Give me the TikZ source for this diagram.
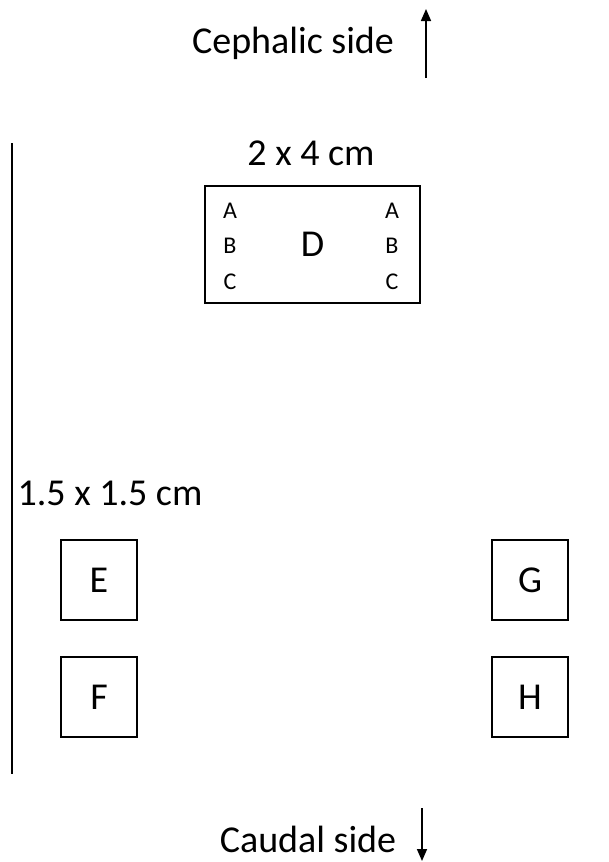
\documentclass[tikz,border=0pt]{standalone}
\usepackage{fontspec}
\setmainfont{Carlito}
\usetikzlibrary{arrows.meta}
\begin{document}
\begin{tikzpicture}[x=1pt,y=-1pt,
  big/.style={inner sep=0pt,font=\fontsize{38}{42}\selectfont},
  small/.style={inner sep=0pt,anchor=base,font=\fontsize{24}{28}\selectfont},
  sq/.style={draw,line width=2.8pt,minimum width=76pt,minimum height=80pt,inner sep=0pt,font=\fontsize{38}{42}\selectfont},
  arr/.style={line width=1.6pt,-{Triangle[length=12pt,width=10pt]}},
  bar/.style={line width=2pt}]
\useasboundingbox (0,0) rectangle (609,862);
% header / footer
\node[big,anchor=base] (ceph) at (293,53) {Cephalic side};
\coordinate (cb) at (426,78);
\coordinate (ct) at (426,9);
\draw[arr] (cb) -- (ct);
\node[big,anchor=base] (caud) at (308,852) {Caudal side};
\coordinate (db) at (422,808);
\coordinate (dt) at (422,861);
\draw[arr] (db) -- (dt);
% left bar
\coordinate (lt) at (12,143);
\coordinate (lb) at (12,774);
\draw[bar] (lt) -- (lb);
% D box
\node[big,anchor=base] (dlab) at (311,165) {2 x 4 cm};
\node[draw,line width=2.8pt,minimum width=215pt,minimum height=117pt,inner sep=0pt,font=\fontsize{38}{42}\selectfont] (D) at (312.5,244.5) {D};
\node[small] (a1) at (230,218) {A};
\node[small] (b1) at (230,253) {B};
\node[small] (c1) at (230,289) {C};
\node[small] (a2) at (392,218) {A};
\node[small] (b2) at (392,253) {B};
\node[small] (c2) at (392,289) {C};
% small boxes
\node[big,anchor=base] (slab) at (110,505) {1.5 x 1.5 cm};
\node[sq] (E) at (99,580) {E};
\node[sq] (F) at (99,697) {F};
\node[sq] (G) at (530,580) {G};
\node[sq] (H) at (530,697) {H};
\end{tikzpicture}
\end{document}
